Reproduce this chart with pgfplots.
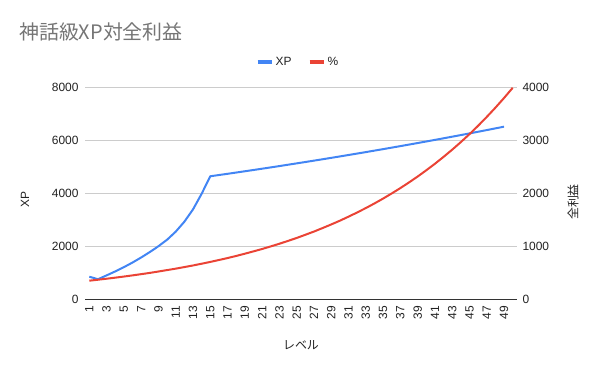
\documentclass[border=0pt]{standalone}
\usepackage{fontspec}
\setmainfont{Liberation Sans}
\newfontfamily\cjk{Noto Sans CJK JP}
\usepackage{pgfplots}
\usepackage{pgfplotstable}
\pgfplotsset{compat=1.18}
\definecolor{gblue}{HTML}{4285F4}
\definecolor{gred}{HTML}{EA4335}
\definecolor{ggrid}{HTML}{CCCCCC}
\definecolor{gtext}{HTML}{222222}
\definecolor{gtitle}{HTML}{757575}
\definecolor{gaxis}{HTML}{333333}

\pgfplotstableread{
lvl xp
1 860
2 765
3 910
4 1060
5 1220
6 1395
7 1585
8 1790
9 2010
10 2255
11 2560
12 2935
13 3400
14 3990
15 4650
16 4697
17 4743
18 4791
19 4839
20 4887
21 4936
22 4985
23 5035
24 5086
25 5137
26 5188
27 5240
28 5292
29 5345
30 5399
31 5453
32 5507
33 5562
34 5618
35 5674
36 5731
37 5788
38 5846
39 5904
40 5963
41 6023
42 6083
43 6144
44 6205
45 6267
46 6330
47 6393
48 6457
49 6522
}\xptable

\pgfplotstableread{
lvl profit
1 355
2 373
3 392
4 412
5 433
6 455
7 478
8 502
9 528
10 555
11 582
12 612
13 642
14 675
15 709
16 745
17 782
18 822
19 864
20 908
21 953
22 1002
23 1052
24 1106
25 1161
26 1221
27 1282
28 1348
29 1416
30 1487
31 1563
32 1642
33 1725
34 1812
35 1904
36 2001
37 2102
38 2209
39 2320
40 2438
41 2561
42 2691
43 2827
44 2970
45 3120
46 3278
47 3445
48 3619
49 3802
50 3994
}\profittable

\begin{document}
\begin{tikzpicture}
\useasboundingbox (0,0) rectangle (600bp,371bp);
\pgfplotsset{
  base/.style={
    at={(85bp,71.5bp)}, anchor=south west,
    scale only axis, width=432bp, height=212bp,
    xmin=0.5, xmax=50.5,
    major tick length=0pt,
    tick label style={font=\fontsize{12}{14}\selectfont, text=gtext},
    /pgf/number format/assume math mode=true,
    /pgf/number format/1000 sep={},
    scaled y ticks=false,
    clip=false,
  }
}
\begin{axis}[base,
  ymin=0, ymax=8000,
  axis y line*=left, axis x line*=bottom,
  y axis line style={draw=none},
  x axis line style={draw=gaxis, line width=1bp},
  xtick={1,3,...,49},
  xticklabel style={rotate=90, anchor=east},
  xticklabel shift=3bp,
  ytick={0,2000,...,8000},
  yticklabel style={anchor=east},
  yticklabel shift=3bp,
  ymajorgrids, grid style={ggrid, line width=0.8bp},
]
\addplot[gblue, line width=2bp, line join=round, no marks] table[x=lvl, y=xp] {\xptable};
\end{axis}
\begin{axis}[base,
  ymin=0, ymax=4000,
  axis y line*=right, axis x line=none,
  y axis line style={draw=none},
  ytick={0,1000,...,4000},
  yticklabel style={anchor=west},
  yticklabel shift=2bp,
  legend style={at={(0.493,1.12)}, anchor=center, draw=none, fill=none,
    font=\fontsize{12}{14}\selectfont, text=gtext,
    legend columns=2,
    /tikz/every even column/.append style={column sep=14bp}},
  legend image code/.code={\draw[#1, line width=4bp] (0bp,0bp) -- (14bp,0bp);},
]
\addlegendimage{gblue, line width=2bp}
\addlegendentry{XP}
\addplot[gred, line width=2bp, line join=round, no marks] table[x=lvl, y=profit] {\profittable};
\addlegendentry{\%}
\end{axis}
\node[anchor=west, inner sep=0pt, font=\cjk\fontsize{20}{23}\selectfont, text=gtitle] at (19bp,339bp) {神話級XP対全利益};
\node[rotate=90, inner sep=0pt, font=\fontsize{12}{14}\selectfont, text=gtext] at (25bp,171bp) {XP};
\node[rotate=90, inner sep=0pt, font=\cjk\fontsize{12}{14}\selectfont, text=gtext] at (573bp,169bp) {全利益};
\node[inner sep=0pt, font=\cjk\fontsize{12}{14}\selectfont, text=gtext] at (301bp,26bp) {レベル};
\end{tikzpicture}
\end{document}
